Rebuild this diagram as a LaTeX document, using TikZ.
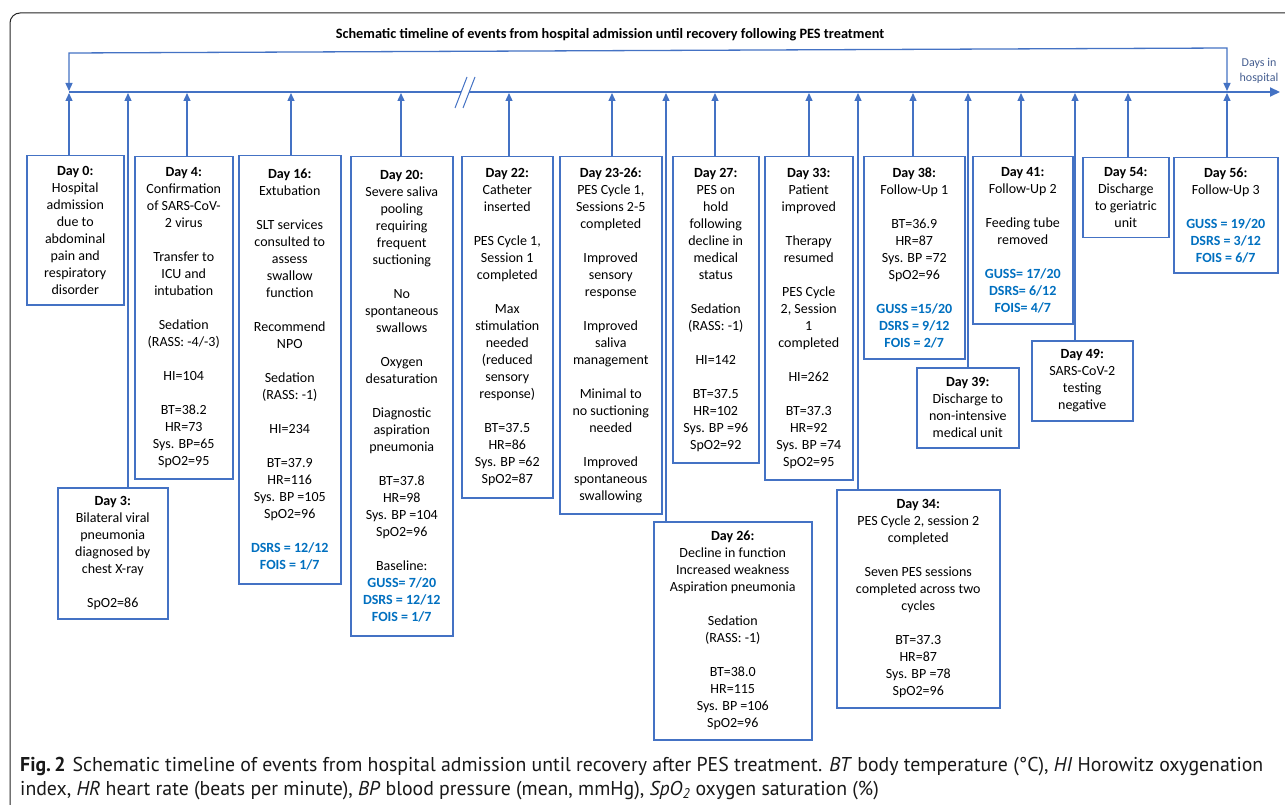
\documentclass[tikz,border=0pt]{standalone}
\usepackage{fontspec}
\setmainfont{Carlito}
\newfontfamily\capfont[FakeStretch=0.99]{PT Sans}
\usetikzlibrary{arrows.meta}
\definecolor{lb}{HTML}{4472C4}
\definecolor{tb}{HTML}{0070C0}
\definecolor{dh}{RGB}{70,95,145}
\newcommand{\blank}{\\[17pt]}
\newcommand{\sco}[1]{\textcolor{tb}{\bfseries #1}}
\begin{document}
\begin{tikzpicture}[x=1pt,y=-1pt,
  box/.style={draw=lb, line width=1.5pt, anchor=north west, align=center, inner sep=0pt,
    font=\fontsize{14}{17}\selectfont},
  conn/.style={lb, line width=1.3pt, -{Triangle[length=8pt,width=7pt]}},
  bracket/.style={lb, line width=1.3pt, {Triangle[length=8pt,width=7pt]}-{Triangle[length=8pt,width=7pt]}},
  axisline/.style={lb, line width=2pt},
  frame/.style={black!85, line width=1pt, rounded corners=10pt}]
\useasboundingbox (0,0) rectangle (1285,805);
\fill[white] (0,0) rectangle (1285,805);
% frame
\draw[frame] (10,815) -- (10,13) -- (1295,13);
% title
\node[font=\fontsize{14.3}{16}\selectfont\bfseries] (title) at (610,35) {Schematic timeline of events from hospital admission until recovery following PES treatment};
% axis
\coordinate (axs) at (69,92);
\coordinate (brk1) at (461,92);
\coordinate (brk2) at (469,92);
\coordinate (axe) at (1280,92);
\draw[axisline] (axs) -- (brk1);
\draw[axisline, -{Triangle[length=10pt,width=9pt]}] (brk2) -- (axe);
\draw[lb, line width=1pt] (455,108) -- (467,77);
\draw[lb, line width=1pt] (463,108) -- (475,77);
\node[dh, font=\fontsize{12}{15}\selectfont, align=center] (days) at (1259,71) {Days in\\hospital};
% bracket
\coordinate (bl) at (69,53);
\coordinate (br) at (1227,48);
\coordinate (bla) at (69,91);
\coordinate (bra) at (1227,91);
\draw[bracket] (bla) -- (bl) -- (br) -- (bra);
% axis anchor points
\foreach \n/\x in {0/69,3/128,4/187,16/291,20/401,22/509,2326/612,26/666,27/715,33/809,34/858,38/913,39/968,41/1021,49/1075,54/1128,56/1227}
  \coordinate (a\n) at (\x,93);
% boxes
\node[box, minimum width=97pt, minimum height=149pt] (d0) at (26,155)
 {\textbf{Day 0:}\\Hospital\\admission\\due to\\abdominal\\pain and\\respiratory\\disorder};
\node[box, minimum width=110pt, minimum height=131pt] (d3) at (57,487)
 {\textbf{Day 3:}\\Bilateral viral\\pneumonia\\diagnosed by\\chest X-ray\blank SpO2=86};
\node[box, minimum width=98pt, minimum height=322pt] (d4) at (134,156)
 {\textbf{Day 4:}\\Confirmation\\of SARS-CoV-\\2 virus\blank Transfer to\\ICU and\\intubation\blank Sedation\\(RASS: -4/-3)\blank HI=104\blank BT=38.2\\HR=73\\Sys. BP=65\\SpO2=95};
\node[box, minimum width=102pt, minimum height=428pt] (d16) at (238,155)
 {\textbf{Day 16:}\\Extubation\blank SLT services\\consulted to\\assess\\swallow\\function\blank Recommend\\NPO\blank Sedation\\(RASS: -1)\blank HI=234\blank BT=37.9\\HR=116\\Sys. BP =105\\SpO2=96\blank \sco{DSRS = 12/12}\\\sco{FOIS = 1/7}};
\node[box, minimum width=102pt, minimum height=479pt] (d20) at (350,156)
 {\textbf{Day 20:}\\Severe saliva\\pooling\\requiring\\frequent\\suctioning\blank No\\spontaneous\\swallows\blank Oxygen\\desaturation\blank Diagnostic\\aspiration\\pneumonia\blank BT=37.8\\HR=98\\Sys. BP =104\\SpO2=96\blank Baseline:\\\sco{GUSS= 7/20}\\\sco{DSRS = 12/12}\\\sco{FOIS = 1/7}};
\node[box, minimum width=91pt, minimum height=341pt] (d22) at (461,156)
 {\textbf{Day 22:}\\Catheter\\inserted\blank PES Cycle 1,\\Session 1\\completed\blank Max\\stimulation\\needed\\(reduced\\sensory\\response)\blank BT=37.5\\HR=86\\Sys. BP =62\\SpO2=87};
\node[box, minimum width=102pt, minimum height=357pt] (d2326) at (559,156)
 {\textbf{Day 23-26:}\\PES Cycle 1,\\Sessions 2-5\\completed\blank Improved\\sensory\\response\blank Improved\\saliva\\management\blank Minimal to\\no suctioning\\needed\blank Improved\\spontaneous\\swallowing};
\node[box, minimum width=158pt, minimum height=218pt] (d26) at (653,521)
 {\textbf{Day 26:}\\Decline in function\\Increased weakness\\Aspiration pneumonia\blank Sedation\\(RASS: -1)\blank BT=38.0\\HR=115\\Sys. BP =106\\SpO2=96};
\node[box, minimum width=86pt, minimum height=306pt] (d27) at (672,156)
 {\textbf{Day 27:}\\PES on\\hold\\following\\decline in\\medical\\status\blank Sedation\\(RASS: -1)\blank HI=142\blank BT=37.5\\HR=102\\Sys. BP =96\\SpO2=92};
\node[box, minimum width=88pt, minimum height=323pt] (d33) at (764,156)
 {\textbf{Day 33:}\\Patient\\improved\blank Therapy\\resumed\blank PES Cycle\\2, Session\\1\\completed\blank HI=262\blank BT=37.3\\HR=92\\Sys. BP =74\\SpO2=95};
\node[box, minimum width=163pt, minimum height=218pt] (d34) at (836,489)
 {\textbf{Day 34:}\\PES Cycle 2, session 2\\completed\blank Seven PES sessions\\completed across two\\cycles\blank BT=37.3\\HR=87\\Sys. BP =78\\SpO2=96};
\node[box, minimum width=101pt, minimum height=202pt] (d38) at (863,156)
 {\textbf{Day 38:}\\Follow-Up 1\blank BT=36.9\\HR=87\\Sys. BP =72\\SpO2=96\blank \sco{GUSS =15/20}\\\sco{DSRS = 9/12}\\\sco{FOIS = 2/7}};
\node[box, minimum width=102pt, minimum height=80pt] (d39) at (916,367)
 {\textbf{Day 39:}\\Discharge to\\non-intensive\\medical unit};
\node[box, minimum width=100pt, minimum height=167pt] (d41) at (972,156)
 {\textbf{Day 41:}\\Follow-Up 2\blank Feeding tube\\removed\blank \sco{GUSS= 17/20}\\\sco{DSRS= 6/12}\\\sco{FOIS= 4/7}};
\node[box, minimum width=101pt, minimum height=80pt] (d49) at (1031,340)
 {\textbf{Day 49:}\\SARS-CoV-2\\testing\\negative};
\node[box, minimum width=86pt, minimum height=80pt] (d54) at (1082,157)
 {\textbf{Day 54:}\\Discharge\\to geriatric\\unit};
\node[box, minimum width=104pt, minimum height=115pt] (d56) at (1173,157)
 {\textbf{Day 56:}\\Follow-Up 3\blank \sco{GUSS = 19/20}\\\sco{DSRS = 3/12}\\\sco{FOIS = 6/7}};
% connectors
\foreach \n in {0,3,4,16,20,22,2326,26,27,33,34,38,39,41,49,54,56}
  \draw[conn] (d\n.north -| a\n) -- (a\n);
% caption
\node[anchor=north west, align=left, inner sep=0pt, text=black!90,
  font=\capfont\fontsize{20}{24}\selectfont] (cap) at (20,757)
 {\textbf{Fig.\,2}\hspace{7pt}Schematic timeline of events from hospital admission until recovery after PES treatment. \textit{BT} body temperature (°C), \textit{HI} Horowitz oxygenation\\
 index, \textit{HR} heart rate (beats per minute), \textit{BP} blood pressure (mean, mmHg), \textit{SpO\textsubscript{2}} oxygen saturation (\%)};
\end{tikzpicture}
\end{document}
